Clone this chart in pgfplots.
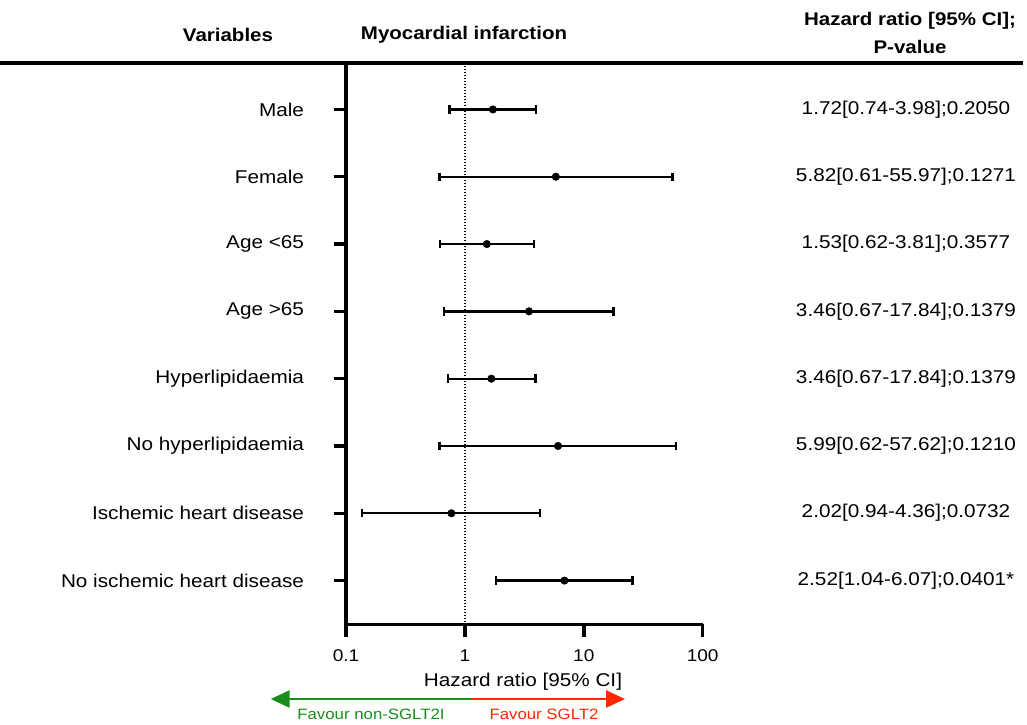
\documentclass[border=0pt]{standalone}
\usepackage{fontspec}
\setmainfont{Liberation Sans}[FakeStretch=1.12]
\usepackage{pgfplots}
\pgfplotsset{compat=1.18}
\usetikzlibrary{arrows.meta}
\definecolor{favgreen}{RGB}{25,140,25}
\definecolor{favred}{RGB}{255,40,0}
\begin{document}
\begin{tikzpicture}
\useasboundingbox (0,0) rectangle (1027pt,-724pt);
\begin{axis}[
  at={(346pt,-624.3pt)}, anchor=south west,
  scale only axis, width=356.7pt, height=561.3pt,
  xmode=log, xmin=0.1, xmax=100, ymin=0.31, ymax=8.65, y dir=reverse,
  axis x line*=bottom, axis y line*=left,
  axis line style={line width=3.4pt, -},
  xtick={0.1,1,10,100}, xticklabels={0.1,1,10,100},
  xminorticks=false,
  ytick={1,2,3,4,5,6,7,8},
  yticklabels={Male, Female, Age <65, Age >65, Hyperlipidaemia\hspace{6pt}, No hyperlipidaemia\hspace{6pt}, Ischemic heart disease, No ischemic heart disease},
  tick align=outside, major tick length=12.5pt,
  tick style={black, line width=3.4pt},
  xticklabel style={font=\fontsize{17}{20}\selectfont, yshift=-9.5pt},
  yticklabel style={font=\fontsize{18.5}{22}\selectfont, xshift=-26pt},
  clip=false,
]
\draw[line width=1.3pt, dash pattern=on 1.3pt off 1.7pt] (axis cs:1,0.31) -- (axis cs:1,8.65);
\pgfplotsset{cistyle/.style={black, line width=2.3pt, mark=|, mark size=4.2pt, mark options={line width=2.5pt, solid}}}
\addplot[cistyle] coordinates {(0.74,1) (3.98,1)};
\addplot[cistyle] coordinates {(0.61,2) (55.97,2)};
\addplot[cistyle] coordinates {(0.62,3) (3.81,3)};
\addplot[cistyle] coordinates {(0.67,4) (17.84,4)};
\addplot[cistyle] coordinates {(0.72,5) (3.92,5)};
\addplot[cistyle] coordinates {(0.61,6) (59.6,6)};
\addplot[cistyle] coordinates {(0.136,7) (4.27,7)};
\addplot[cistyle] coordinates {(1.82,8) (25.6,8)};
\addplot[only marks, mark=*, mark size=3.8pt, black] coordinates {
 (1.72,1) (5.82,2) (1.53,3) (3.46,4) (1.67,5) (6.07,6) (0.77,7) (6.87,8)};
\end{axis}
% header
\draw[line width=3.4pt] (0pt,-63pt) -- (1023pt,-63pt);
\node[font=\bfseries\fontsize{18.3}{21}\selectfont] at (228pt,-35pt) {Variables};
\node[font=\bfseries\fontsize{18.3}{21}\selectfont] at (464pt,-35pt) {Myocardial infarction};
\node[font=\bfseries\fontsize{18.3}{21}\selectfont] at (910pt,-21pt) {Hazard ratio [95\% CI];};
\node[font=\bfseries\fontsize{18.3}{21}\selectfont] at (910pt,-47pt) {P-value};
% right column
\begin{scope}[every node/.style={font=\fontsize{18.5}{22}\selectfont}]
\node at (906pt,-109.4pt) {1.72[0.74-3.98];0.2050};
\node at (906pt,-176.7pt) {5.82[0.61-55.97];0.1271};
\node at (906pt,-244.0pt) {1.53[0.62-3.81];0.3577};
\node at (906pt,-311.3pt) {3.46[0.67-17.84];0.1379};
\node at (906pt,-378.6pt) {3.46[0.67-17.84];0.1379};
\node at (906pt,-445.9pt) {5.99[0.62-57.62];0.1210};
\node at (906pt,-513.2pt) {2.02[0.94-4.36];0.0732};
\node at (906pt,-580.5pt) {2.52[1.04-6.07];0.0401*};
\end{scope}
% x label
\node[font=\fontsize{18.5}{22}\selectfont] at (523pt,-682pt) {Hazard ratio [95\% CI]};
% arrows
\draw[favgreen, line width=2.7pt, -{Triangle[length=19pt,width=17pt]}] (471.7pt,-699pt) -- (270.7pt,-699pt);
\draw[favred, line width=2.7pt, -{Triangle[length=19pt,width=17pt]}] (471.7pt,-699pt) -- (625pt,-699pt);
\node[favgreen, font=\fontsize{15}{17}\selectfont] at (371pt,-714.5pt) {Favour non-SGLT2I};
\node[favred, font=\fontsize{15}{17}\selectfont] at (544pt,-714.5pt) {Favour SGLT2};
\end{tikzpicture}
\end{document}
